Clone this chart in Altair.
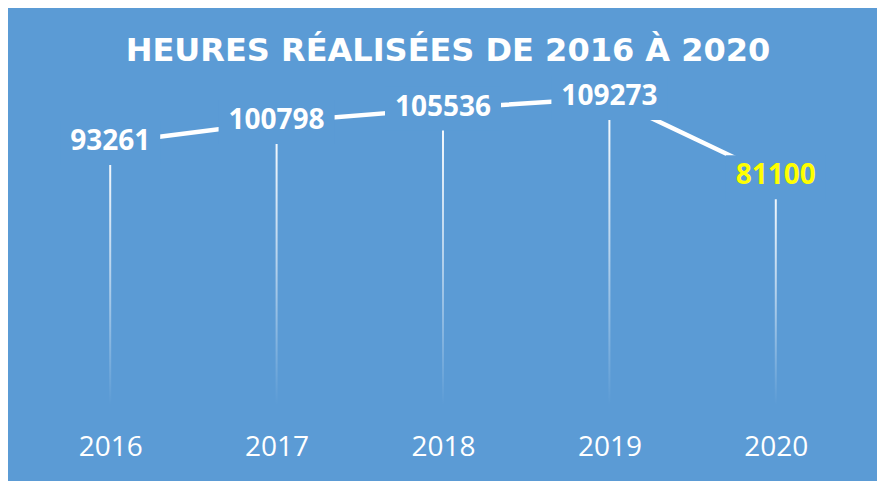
import altair as alt
import pandas as pd

# Data
years = ["2016", "2017", "2018", "2019", "2020"]
hours = [93261, 100798, 105536, 109273, 81100]

BG = "#5B9BD5"

df = pd.DataFrame({"year": years, "hours": hours})
df["label"] = df["hours"].astype(str)

x_enc = alt.X(
    "year:O",
    scale=alt.Scale(type="point", padding=0.5),
    axis=alt.Axis(
        title=None,
        labelAngle=0,
        labelColor="white",
        labelFont="Open Sans",
        labelFontSize=28,
        labelFontWeight="normal",
        labelBaseline="middle",
        labelPadding=42,
        domain=False,
        ticks=False,
        tickSize=0,
        grid=False,
    ),
)
y_enc = alt.Y("hours:Q", scale=alt.Scale(domain=[0, 120000]), axis=None)

base = alt.Chart(df).encode(x=x_enc)

drops = base.mark_bar(
    width=2,
    color=alt.Gradient(
        gradient="linear",
        stops=[
            alt.GradientStop(color="rgba(255,255,255,1)", offset=0),
            alt.GradientStop(color="rgba(255,255,255,0.55)", offset=0.5),
            alt.GradientStop(color="rgba(255,255,255,0)", offset=1),
        ],
        x1=0, x2=0, y1=0, y2=1,
    ),
).encode(y=y_enc)

line = base.mark_line(color="white", strokeWidth=4.5, strokeCap="butt").encode(y=y_enc)

mask = (
    base.transform_calculate(hw="8*length(datum.label)+10")
    .transform_calculate(r="22/datum.hw")
    .transform_calculate(
        shp="'M-1,-'+datum.r+'L1,-'+datum.r+'L1,'+datum.r+'L-1,'+datum.r+'Z'",
        sz="pow(2*datum.hw,2)",
    )
    .mark_point(filled=True, opacity=1, color=BG, strokeWidth=0)
    .encode(
        y=y_enc,
        shape=alt.Shape("shp:N", scale=None),
        size=alt.Size("sz:Q", scale=None),
    )
)

labels = base.mark_text(
    font="Open Sans", fontWeight="bold", fontSize=28, baseline="middle", dy=-1
).encode(
    y=y_enc,
    text="label:N",
    color=alt.condition("datum.year == '2020'", alt.value("#FFFF00"), alt.value("white")),
)

chart = (
    alt.layer(drops, line, mask, labels)
    .properties(
        width=832,
        height=337,
        title=alt.TitleParams(
            text="HEURES RÉALISÉES DE 2016 À 2020",
            font="DejaVu Sans",
            fontSize=32,
            fontWeight="bold",
            color="white",
            anchor="middle",
            baseline="alphabetic",
            offset=5,
            dx=5,
            dy=30,
        ),
        background=BG,
        padding={"left": 19, "top": 60, "right": 18, "bottom": 76},
        autosize=alt.AutoSizeParams(type="none"),
    )
    .configure_view(strokeWidth=0)
)

chart.save("out.html", embed_options={"renderer": "svg", "actions": False})
